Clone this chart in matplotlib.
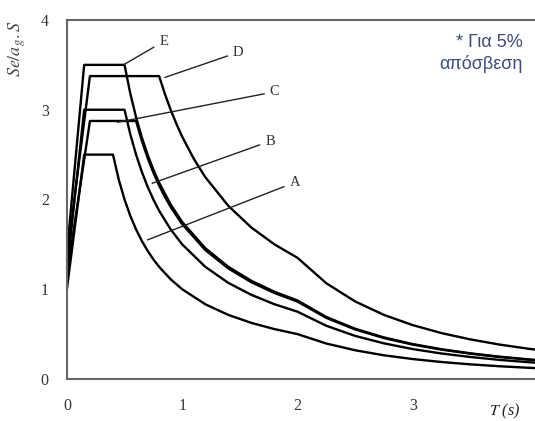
import matplotlib
matplotlib.use("Agg")
import matplotlib.pyplot as plt

# spectra values (Se/ag.S vs period T)
T_A = [0, 0.15, 0.4, 0.45, 0.5, 0.55, 0.6, 0.65, 0.7, 0.75, 0.8, 0.9, 1.0, 1.2, 1.4, 1.6, 1.8, 2.0,
       2.25, 2.5, 2.75, 3.0, 3.25, 3.5, 3.75, 4.0, 4.1]
Se_A = [1.0, 2.5, 2.5, 2.222, 2.0, 1.818, 1.667, 1.538, 1.429, 1.333, 1.25, 1.111, 1.0, 0.833, 0.714,
        0.625, 0.556, 0.5, 0.395, 0.32, 0.264, 0.222, 0.189, 0.163, 0.142, 0.125, 0.119]

T_B = [0, 0.15, 0.5, 0.55, 0.6, 0.65, 0.7, 0.75, 0.8, 0.9, 1.0, 1.2, 1.4, 1.6, 1.8, 2.0,
       2.25, 2.5, 2.75, 3.0, 3.25, 3.5, 3.75, 4.0, 4.1]
Se_B = [1.2, 3.0, 3.0, 2.727, 2.5, 2.308, 2.143, 2.0, 1.875, 1.667, 1.5, 1.25, 1.071, 0.9375, 0.833,
        0.75, 0.593, 0.48, 0.397, 0.333, 0.284, 0.245, 0.213, 0.1875, 0.178]

T_C = [0, 0.2, 0.6, 0.65, 0.7, 0.75, 0.8, 0.85, 0.9, 1.0, 1.2, 1.4, 1.6, 1.8, 2.0,
       2.25, 2.5, 2.75, 3.0, 3.25, 3.5, 3.75, 4.0, 4.1]
Se_C = [1.15, 2.875, 2.875, 2.654, 2.464, 2.3, 2.156, 2.029, 1.917, 1.725, 1.4375, 1.232, 1.078,
        0.958, 0.8625, 0.681, 0.552, 0.456, 0.383, 0.327, 0.282, 0.245, 0.216, 0.205]

T_D = [0, 0.2, 0.8, 0.85, 0.9, 0.95, 1.0, 1.1, 1.2, 1.4, 1.6, 1.8, 2.0,
       2.25, 2.5, 2.75, 3.0, 3.25, 3.5, 3.75, 4.0, 4.1]
Se_D = [1.35, 3.375, 3.375, 3.176, 3.0, 2.842, 2.7, 2.455, 2.25, 1.929, 1.6875, 1.5, 1.35,
        1.067, 0.864, 0.714, 0.6, 0.511, 0.441, 0.384, 0.3375, 0.321]

T_E = [0, 0.15, 0.5, 0.55, 0.6, 0.65, 0.7, 0.75, 0.8, 0.9, 1.0, 1.2, 1.4, 1.6, 1.8, 2.0,
       2.25, 2.5, 2.75, 3.0, 3.25, 3.5, 3.75, 4.0, 4.1]
Se_E = [1.4, 3.5, 3.5, 3.182, 2.917, 2.692, 2.5, 2.333, 2.1875, 1.944, 1.75, 1.458, 1.25, 1.094,
        0.972, 0.875, 0.691, 0.56, 0.463, 0.389, 0.331, 0.286, 0.249, 0.219, 0.208]

labels = ["A", "B", "C", "D", "E"]
# point on curve, label position
label_from = [(0.70, 1.55), (0.74, 2.18), (0.44, 2.86), (0.85, 3.36), (0.49, 3.5)]
label_at = [(1.93, 2.19), (1.72, 2.65), (1.76, 3.2), (1.44, 3.64), (0.80, 3.76)]

plt.rcParams["mathtext.fontset"] = "stix"

fig = plt.figure(figsize=(5.35, 4.21), dpi=100)
ax = fig.add_axes([0.125, 0.0998, 0.875, 0.8527])

for T, Se in [(T_A, Se_A), (T_B, Se_B), (T_C, Se_C), (T_D, Se_D), (T_E, Se_E)]:
    ax.plot(T, Se, color="black", lw=1.7, solid_joinstyle="round")

for lab, p0, p1 in zip(labels, label_from, label_at):
    ax.annotate(lab, xy=p0, xytext=p1, fontsize=10.5, family="Liberation Serif",
                va="center", ha="left", color="#333333",
                arrowprops=dict(arrowstyle="-", color="#222222", lw=1.0,
                                shrinkA=2, shrinkB=0))

ax.set_xlim(0, 4.06)
ax.set_ylim(0, 4)
ax.set_xticks([0, 1, 2, 3])
ax.set_yticks([0, 1, 2, 3, 4])
ax.tick_params(axis="x", length=0, labelsize=11.5, pad=14)
ax.tick_params(axis="y", length=0, labelsize=11.5, pad=13)
for t in ax.get_xticklabels() + ax.get_yticklabels():
    t.set_family("Liberation Serif")
    t.set_color("#333333")
ax.spines["right"].set_visible(False)
for s in ["left", "bottom", "top"]:
    ax.spines[s].set_color("#666666")
    ax.spines[s].set_linewidth(1.5)

fig.text(0.032, 0.885, r"$Se/a_g.S$", rotation=90, fontsize=13, color="#444444",
         ha="center", va="center")
fig.text(0.943, 0.022, r"$T$ (s)", fontsize=11.5, color="#222222", family="Liberation Serif",
         ha="center", va="center", style="italic")

ax.text(0.973, 0.96, "* Για 5%\nαπόσβεση", transform=ax.transAxes, ha="right", va="top",
        fontsize=13, color="#3b4a82", family="Liberation Sans", linespacing=1.25)

fig.savefig("out.png", dpi=100)
